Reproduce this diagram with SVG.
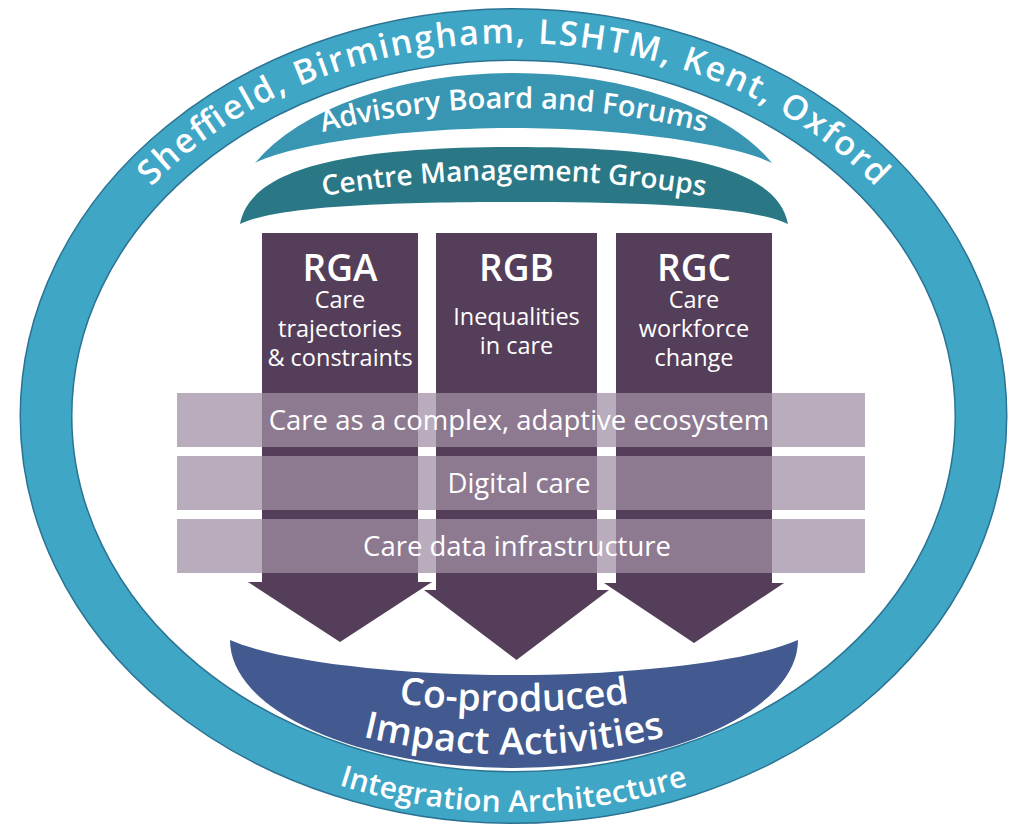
<svg xmlns="http://www.w3.org/2000/svg" width="1011" height="829" viewBox="0 0 1011 829">
  <style>
    .t { font-family: "Open Sans", "Noto Sans", "Liberation Sans", sans-serif; fill: #ffffff; }
    .ring-label { font-size: 34px; font-weight: 600; }
    .ring-label-bottom { font-size: 30px; font-weight: 600; }
    .arc-label { font-weight: 600; }
    .rg-title { font-size: 37px; font-weight: 600; text-anchor: middle; }
    .rg-sub { font-size: 23.5px; font-weight: 500; text-anchor: middle; }
    .band { fill: #a08fa5; fill-opacity: 0.74; }
    .band-label { font-size: 27.5px; font-weight: 500; text-anchor: middle; }
    .arrow { fill: #553e59; }
    .impact-label { font-size: 37.5px; font-weight: 600; }
  </style>
  <defs>
    <!-- baselines for curved labels -->
    <path id="ringTop" d="M 54.5 416 A 459 373 0 0 1 972.5 416"/>
    <path id="ringBottom" d="M 31.5 416 A 482 396 0 0 0 995.5 416"/>
    <path id="advisoryArc" d="M 214 168.6 A 773 773 0 0 1 814 168.6"/>
    <path id="managementArc" d="M 214 220.3 A 1136 1136 0 0 1 814 220.3"/>
    <path id="coproducedArc" d="M 314 686 A 800 800 0 0 0 714 686"/>
    <path id="impactArc" d="M 314 723 A 650 650 0 0 0 714 723"/>
  </defs>

  <rect width="1011" height="829" fill="#ffffff"/>

  <!-- outer integration ring -->
  <g id="ring">
    <ellipse cx="513.5" cy="416" rx="467.5" ry="381.5" fill="none" stroke="#2b7392" stroke-width="53"/>
    <ellipse cx="513.5" cy="416" rx="467.5" ry="381.5" fill="none" stroke="#40a6c6" stroke-width="50"/>
    <text class="t ring-label"><textPath href="#ringTop" startOffset="50%" text-anchor="middle" textLength="800" lengthAdjust="spacing">Sheffield, Birmingham, LSHTM, Kent, Oxford</textPath></text>
    <text class="t ring-label-bottom"><textPath href="#ringBottom" startOffset="50%" text-anchor="middle" textLength="355" lengthAdjust="spacing">Integration Architecture</textPath></text>
  </g>

  <!-- governance layers -->
  <g id="advisory">
    <path d="M 255 163 A 282 150 0 0 1 772 163 C 737 145 628 128 514 128 C 400 128 290 145 255 163 Z" fill="#3996b3"/>
    <text class="t arc-label" font-size="29"><textPath href="#advisoryArc" startOffset="50%" text-anchor="middle">Advisory Board and Forums</textPath></text>
  </g>
  <g id="management">
    <path d="M 240 224 C 250 170 340 147 514 147 C 688 147 778 170 788 224 C 750 206 640 202 514 202 C 388 202 278 206 240 224 Z" fill="#2a7885"/>
    <text class="t arc-label" font-size="28"><textPath href="#managementArc" startOffset="50%" text-anchor="middle">Centre Management Groups</textPath></text>
  </g>

  <!-- research group arrows -->
  <g id="rga">
    <path class="arrow" d="M 262 233 H 418 V 582 H 432 L 340 642 L 248 582 H 262 Z"/>
    <text class="t rg-title" x="340" y="281">RGA</text>
    <text class="t rg-sub" x="340" y="308">Care</text>
    <text class="t rg-sub" x="340" y="337">trajectories</text>
    <text class="t rg-sub" x="340" y="366">&amp; constraints</text>
  </g>
  <g id="rgb">
    <path class="arrow" d="M 436 233 H 597 V 590 H 609 L 516.5 660 L 424 590 H 436 Z"/>
    <text class="t rg-title" x="516.5" y="281">RGB</text>
    <text class="t rg-sub" x="516.5" y="325">Inequalities</text>
    <text class="t rg-sub" x="516.5" y="354">in care</text>
  </g>
  <g id="rgc">
    <path class="arrow" d="M 616 233 H 772 V 583 H 784 L 694 643 L 604 583 H 616 Z"/>
    <text class="t rg-title" x="694" y="281">RGC</text>
    <text class="t rg-sub" x="694" y="308">Care</text>
    <text class="t rg-sub" x="694" y="337">workforce</text>
    <text class="t rg-sub" x="694" y="366">change</text>
  </g>

  <!-- cross-cutting themes -->
  <g id="theme-ecosystem">
    <rect class="band" x="177" y="393" width="688" height="54"/>
    <text class="t band-label" x="519" y="430">Care as a complex, adaptive ecosystem</text>
  </g>
  <g id="theme-digital">
    <rect class="band" x="177" y="456" width="688" height="54"/>
    <text class="t band-label" x="519" y="493">Digital care</text>
  </g>
  <g id="theme-data">
    <rect class="band" x="177" y="519" width="688" height="54"/>
    <text class="t band-label" x="517" y="556">Care data infrastructure</text>
  </g>

  <!-- impact bowl -->
  <g id="impact">
    <path d="M 230 640 A 284 128 0 0 0 798 640 C 748 662 628 675 514 675 C 400 675 280 662 230 640 Z" fill="#425a8f"/>
    <text class="t impact-label"><textPath href="#coproducedArc" startOffset="50%" text-anchor="middle">Co-produced</textPath></text>
    <text class="t impact-label"><textPath href="#impactArc" startOffset="50%" text-anchor="middle" textLength="305" lengthAdjust="spacing">Impact Activities</textPath></text>
  </g>
</svg>
